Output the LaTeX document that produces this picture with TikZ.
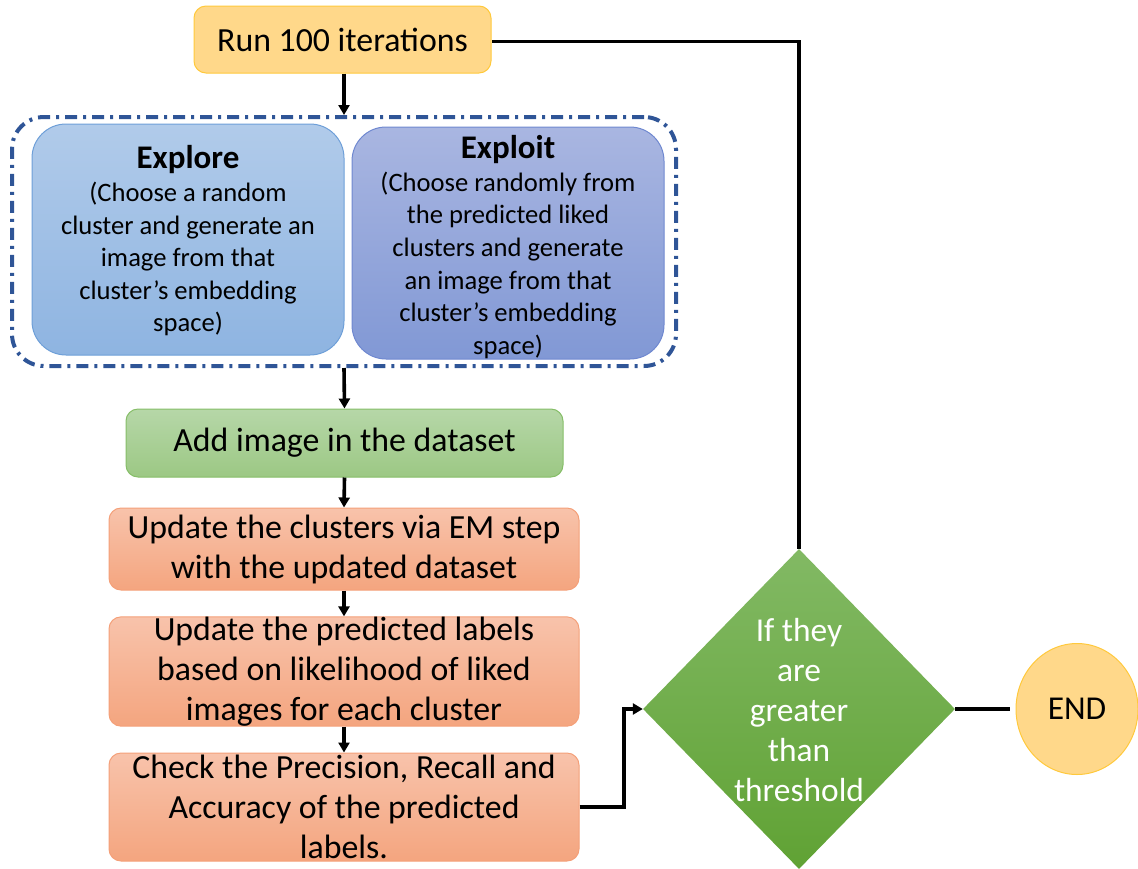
\documentclass[tikz,border=0pt]{standalone}
\usepackage{fontspec}
\setmainfont{Carlito}
\usetikzlibrary{shapes.geometric,arrows.meta}

\definecolor{runfill}{HTML}{FFD88A}
\definecolor{runline}{HTML}{FFC93C}
\definecolor{exploretop}{HTML}{B1CBEA}
\definecolor{explorebot}{HTML}{8EB4E1}
\definecolor{exploreline}{HTML}{6E9FD8}
\definecolor{exploittop}{HTML}{A9B6E1}
\definecolor{exploitbot}{HTML}{8198D5}
\definecolor{exploitline}{HTML}{6F88D0}
\definecolor{addtop}{HTML}{B6D7A8}
\definecolor{addbot}{HTML}{9CC884}
\definecolor{addline}{HTML}{86BE68}
\definecolor{updtop}{HTML}{F8C3AB}
\definecolor{updbot}{HTML}{F4A57F}
\definecolor{updline}{HTML}{F4A079}
\definecolor{dectop}{HTML}{82B964}
\definecolor{decbot}{HTML}{60A234}
\definecolor{groupline}{HTML}{2F5597}

% heading inside the two choice boxes
\newcommand{\choicehead}[1]{{\fontsize{33}{37}\selectfont\bfseries #1}}

\tikzset{
  flowbox/.style={rounded corners=12pt, line width=1pt, inner sep=0pt, align=center,
    font=\fontsize{33.8}{40}\selectfont},
  runbox/.style={flowbox, draw=runline, fill=runfill},
  addbox/.style={flowbox, draw=addline, top color=addtop, bottom color=addbot},
  updbox/.style={flowbox, draw=updline, top color=updtop, bottom color=updbot},
  choicebox/.style={rounded corners=34pt, line width=1pt, inner sep=0pt},
  choicetext/.style={align=center, inner sep=0pt,
    font=\fontsize{26.6}{32.6}\selectfont},
  connector/.style={line width=3.6pt, draw=black},
  flowarrow/.style={connector, -{Triangle[length=10pt,width=11pt]}},
  groupframe/.style={draw=groupline, line width=4pt, rounded corners=32pt,
    dash pattern=on 12pt off 6pt on 3pt off 6pt}
}

\begin{document}
\begin{tikzpicture}[x=1pt,y=-1pt]
\useasboundingbox (0,0) rectangle (1138,868);

% start
\node[runbox, minimum width=297pt, minimum height=67pt] (run) at (342.5,39.5) {Run 100 iterations};

% exploration / exploitation group
\node[groupframe, minimum width=664pt, minimum height=249pt] (group) at (344,241.5) {};
\node[choicebox, draw=exploreline, top color=exploretop, bottom color=explorebot,
      minimum width=312pt, minimum height=231pt] (explore) at (188,239.5) {};
\node[choicetext] (exploretxt) at (188,241) {\choicehead{Explore}\\(Choose a random\\cluster and generate an\\image from that\\cluster’s embedding\\space)};
\node[choicebox, draw=exploitline, top color=exploittop, bottom color=exploitbot,
      minimum width=312pt, minimum height=232pt] (exploit) at (508,243) {};
\node[choicetext] (exploittxt) at (508,247) {\choicehead{Exploit}\\(Choose randomly from\\the predicted liked\\clusters and generate\\an image from that\\cluster’s embedding\\space)};

% processing steps
\node[addbox, minimum width=437pt, minimum height=68pt] (add) at (344.5,443) {Add image in the dataset};
\node[updbox, minimum width=470pt, minimum height=82pt] (emstep) at (344,549) {Update the clusters via EM step\\with the updated dataset};
\node[updbox, minimum width=470pt, minimum height=107pt] (labels) at (344,671.5) {Update the predicted labels\\based on likelihood of liked\\images for each cluster};
\node[updbox, minimum width=470pt, minimum height=108pt] (check) at (344,807) {Check the Precision, Recall and\\Accuracy of the predicted\\labels.};

% decision and end
\node[diamond, draw=none, top color=dectop, bottom color=decbot, inner sep=0pt,
      minimum width=312pt, minimum height=320pt] (decision) at (799,709) {};
\node[align=center, text=white, inner sep=0pt, font=\fontsize{33.4}{40}\selectfont] (dectext) at (799,710) {If they\\are\\greater\\than\\threshold};
\node[ellipse, draw=runline, fill=runfill, line width=1pt, inner sep=0pt,
      minimum width=122pt, minimum height=131pt, font=\fontsize{33.4}{40}\selectfont] (endnode) at (1077,709) {END};

% connectors
\draw[flowarrow] (run.south -| group.north) -- (group.north);
\draw[flowarrow] (group.south) -- (add.north);
\draw[flowarrow] (add.south) -- (emstep.north);
\draw[flowarrow] (emstep.south) -- (labels.north);
\draw[flowarrow] (labels.south) -- (check.north);
\coordinate (bend) at (624,807);
\draw[flowarrow] (check.east) -- (bend) |- (decision.west);
\coordinate (loop) at (799,41.5);
\draw[connector] (decision.north) -- (loop) -- (run.east |- loop);
\coordinate (endstub) at (1010,709);
\draw[connector] (decision.east) -- (endstub);
\end{tikzpicture}
\end{document}
